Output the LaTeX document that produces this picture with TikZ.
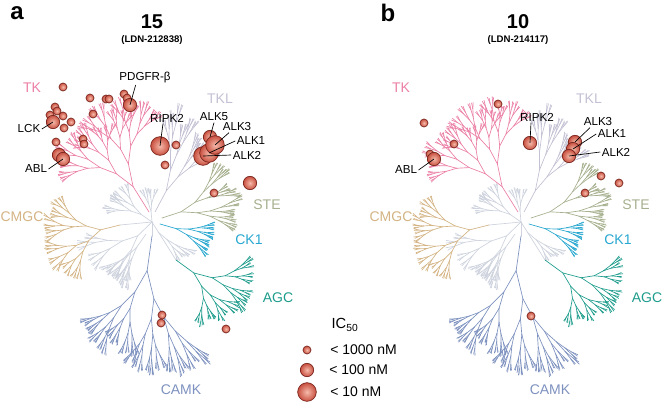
\documentclass[tikz,border=0pt]{standalone}
\usepackage{fontspec}
\setmainfont{Liberation Sans}
\usetikzlibrary{positioning}

\definecolor{tkpink}{RGB}{236,128,166}
\definecolor{tklgray}{RGB}{196,193,212}
\definecolor{steolive}{RGB}{166,176,142}
\definecolor{ckcyan}{RGB}{40,168,208}
\definecolor{agcteal}{RGB}{30,157,140}
\definecolor{camkblue}{RGB}{126,146,192}
\definecolor{cmgctan}{RGB}{212,180,132}
\definecolor{hubgray}{RGB}{206,211,222}
\definecolor{hitin}{RGB}{246,186,170}
\definecolor{hitout}{RGB}{200,80,64}
\definecolor{hitrim}{RGB}{120,36,28}

\tikzset{
  twig/.style={line width=0.5pt, line cap=round},
  hit/.style={circle, draw=hitrim, line width=0.5pt, inner color=hitin, outer color=hitout, inner sep=0pt},
  hitS/.style={hit, minimum size=6pt},
  hitM/.style={hit, minimum size=10pt},
  hitL/.style={hit, minimum size=14pt},
  fam/.style={font=\fontsize{10.5}{12}\selectfont, inner sep=0pt},
  lab/.style={font=\fontsize{8.7}{10}\selectfont, inner sep=1pt},
  lead/.style={black, line width=0.5pt},
  legtxt/.style={font=\fontsize{10.5}{12}\selectfont, inner sep=0pt, anchor=west},
}

\newcommand\kbranch[4]{%
  \ifnum#3>0
    \pgfmathsetmacro\klen{0.75*#2}%
    \draw (0,0) -- (#1:\klen pt);
    \begin{scope}[shift={(#1:\klen pt)}]
      \pgfmathsetmacro\kangA{#1+#4*(0.55+0.55*rnd)}%
      \pgfmathsetmacro\kangB{#1-#4*(0.55+0.55*rnd)}%
      \pgfmathsetmacro\klenA{#2*(0.68+0.2*rnd)}%
      \pgfmathsetmacro\klenB{#2*(0.68+0.2*rnd)}%
      \pgfmathsetmacro\kspr{#4*0.8}%
      \edef\knext{\noexpand\kbranch{\kangA}{\klenA}{\the\numexpr#3-1\relax}{\kspr}%
        \noexpand\kbranch{\kangB}{\klenB}{\the\numexpr#3-1\relax}{\kspr}}%
      \knext
    \end{scope}
  \fi}

\newcommand\kinome[1]{%
  \pgfmathsetseed{11}%
  \begin{scope}[twig, color=hubgray]
    \draw (0,0) -- (-32,3);
    \draw (0,0) -- (24,38);
    \draw (0,0) -- (0,14);
    \kbranch{224}{20}{6}{24}
    \kbranch{145}{13}{6}{20}
    \kbranch{95}{11}{5}{16}
    \begin{scope}[shift={(6,10)}]\kbranch{-40}{12}{5}{16}\end{scope}
    \begin{scope}[shift={(-6,12)}]\kbranch{-125}{16}{6}{18}\end{scope}
  \end{scope}
  \begin{scope}[twig, color=tkpink, shift={(-3,-10)}]\kbranch{122}{30}{8}{36}\end{scope}
  \begin{scope}[twig, color=tklgray, shift={(3,-10)}]\kbranch{62}{24}{7}{16}\end{scope}
  \begin{scope}[twig, color=steolive, shift={(10,-4)}]\kbranch{18}{20}{7}{20}\end{scope}
  \begin{scope}[twig, color=ckcyan, shift={(8,2)}]\kbranch{-16}{17}{6}{14}\end{scope}
  \begin{scope}[twig, color=agcteal, shift={(24,38)}]\kbranch{-36}{22}{7}{28}\end{scope}
  \begin{scope}[twig, color=camkblue, shift={(0,14)}]\kbranch{-98}{35}{8}{24}\end{scope}
  \begin{scope}[twig, color=cmgctan, shift={(-32,3)}]\kbranch{194}{20}{7}{32}\end{scope}
  \node[fam, text=tkpink] (tk#1) at (-120,-134) {TK};
  \node[fam, text=tklgray] (tkl#1) at (68,-123) {TKL};
  \node[fam, text=steolive] (ste#1) at (115,-17) {STE};
  \node[fam, text=cmgctan] (cmgc#1) at (-130,-5) {CMGC};
  \node[fam, text=ckcyan] (ck#1) at (97,18) {CK1};
  \node[fam, text=agcteal] (agc#1) at (126,76) {AGC};
  \node[fam, text=camkblue] (camk#1) at (29,168) {CAMK};
}

\begin{document}
\begin{tikzpicture}[x=0.75pt,y=-0.75pt]
\useasboundingbox[fill=white] (0,0) rectangle (664,403);

\begin{scope}[shift={(152,222)}]\kinome{A}\end{scope}
\begin{scope}[shift={(521,222)}]\kinome{B}\end{scope}

\node[font=\fontsize{18}{20}\selectfont\bfseries] (pa) at (17,13) {a};
\node[font=\fontsize{15}{17}\selectfont\bfseries] (ta) at (152,22) {15};
\node[font=\fontsize{7.2}{8}\selectfont\bfseries] (sa) at (152,40) {(LDN-212838)};
\node[font=\fontsize{18}{20}\selectfont\bfseries] (pb) at (388,13) {b};
\node[font=\fontsize{15}{17}\selectfont\bfseries] (tb) at (518,22) {10};
\node[font=\fontsize{7.2}{8}\selectfont\bfseries] (sb) at (518,40) {(LDN-214117)};

\node[hitS] (a1) at (63,87) {};
\node[hitS] (a2) at (90,98) {};
\node[hitS] (a3) at (106,99) {};
\node[hitS] (a4) at (109,99) {};
\node[hitS] (a5) at (124,94) {};
\node[hitS] (a6) at (127,98) {};
\node[hitM] (pdgAb) at (130,105) {};
\node[hitS] (a7) at (93,114) {};
\node[hitS] (a8) at (55,107) {};
\node[hitS] (a9) at (57,111) {};
\node[hitS] (a10) at (50,115) {};
\node[hitS] (a11) at (63,116) {};
\node[hitM] (lckAb) at (53,122) {};
\node[hitS] (a12) at (71,122) {};
\node[hitS] (a13) at (64,128) {};
\node[hitS] (a14) at (56,142) {};
\node[hitS] (a15) at (83,139) {};
\node[hitS] (a16) at (84,144) {};
\node[hitM] (a17) at (59,155) {};
\node[hitM] (ablAb) at (63,159) {};
\node[hitL] (ripAb) at (160,146) {};
\node[hitS] (a18) at (176,145) {};
\node[hitS] (a19) at (165,165) {};
\node[hitM] (alk5Ab) at (210,137) {};
\node[hitL] (alk2Ab) at (203,156) {};
\node[hitL] (alk1Ab) at (209,153) {};
\node[hitL] (alk3Ab) at (215,145) {};
\node[hitM] (a20) at (250,183) {};
\node[hitS] (a21) at (214,193) {};
\node[hitS] (a22) at (162,315) {};
\node[hitS] (a23) at (161,323) {};
\node[hitS] (a24) at (226,329) {};

\node[hitS] (b1) at (424,123) {};
\node[hitS] (b2) at (498,104) {};
\node[hitS] (b3) at (454,144) {};
\node[hitS] (b4) at (430,154) {};
\node[hitM] (ablBb) at (434,159) {};
\node[hitM] (ripBb) at (530,143) {};
\node[hitM] (alk3Bb) at (575,142) {};
\node[hitM] (alk1Bb) at (573,149) {};
\node[hitM] (alk2Bb) at (569,156) {};
\node[hitS] (b5) at (601,176) {};
\node[hitS] (b6) at (619,183) {};
\node[hitS] (b7) at (585,193) {};
\node[hitS] (b8) at (531,316) {};

\node[lab] (pdgA) at (145,78) {PDGFR-β};
\node[lab] (lckA) at (29,129) {LCK};
\node[lab] (ablA) at (36,169) {ABL};
\node[lab] (ripA) at (167,118) {RIPK2};
\node[lab] (alk5A) at (214,117) {ALK5};
\node[lab] (alk3A) at (237,127) {ALK3};
\node[lab] (alk1A) at (251,141) {ALK1};
\node[lab] (alk2A) at (247,155) {ALK2};
\draw[lead] ([xshift=-7pt]pdgA.south) -- (pdgAb.center);
\draw[lead] (lckA.east) -- (lckAb.center);
\draw[lead] (ablA.east) -- (ablAb.center);
\draw[lead] ([xshift=-3pt]ripA.south) -- (ripAb.center);
\draw[lead] (alk5A.south) -- (alk5Ab.center);
\draw[lead] ([xshift=-6pt]alk3A.south) -- (alk3Ab.center);
\draw[lead] (alk1A.west) -- (alk1Ab.center);
\draw[lead] (alk2A.west) -- (alk2Ab.center);

\node[lab] (ablB) at (406,170) {ABL};
\node[lab] (ripB) at (537,117) {RIPK2};
\node[lab] (alk3B) at (598,122) {ALK3};
\node[lab] (alk1B) at (612,134) {ALK1};
\node[lab] (alk2B) at (616,152) {ALK2};
\draw[lead] (ablB.east) -- (ablBb.center);
\draw[lead] ([xshift=-4.5pt]ripB.south) -- (ripBb.center);
\draw[lead] ([xshift=-6pt]alk3B.south) -- (alk3Bb.center);
\draw[lead] (alk1B.west) -- (alk1Bb.center);
\draw[lead] (alk2B.west) -- (alk2Bb.center);

\node[font=\fontsize{11}{12}\selectfont, inner sep=0pt] (ic) at (345,325) {IC\textsubscript{50}};
\node[hitS] (legS) at (307,350) {};
\node[hitM] (legM) at (307,370) {};
\node[hitL] (legL) at (307,392) {};
\node[legtxt] (legSt) at (330,350) {< 1000 nM};
\node[legtxt] (legMt) at (329,370) {< 100 nM};
\node[legtxt] (legLt) at (330,392) {< 10 nM};
\end{tikzpicture}
\end{document}
